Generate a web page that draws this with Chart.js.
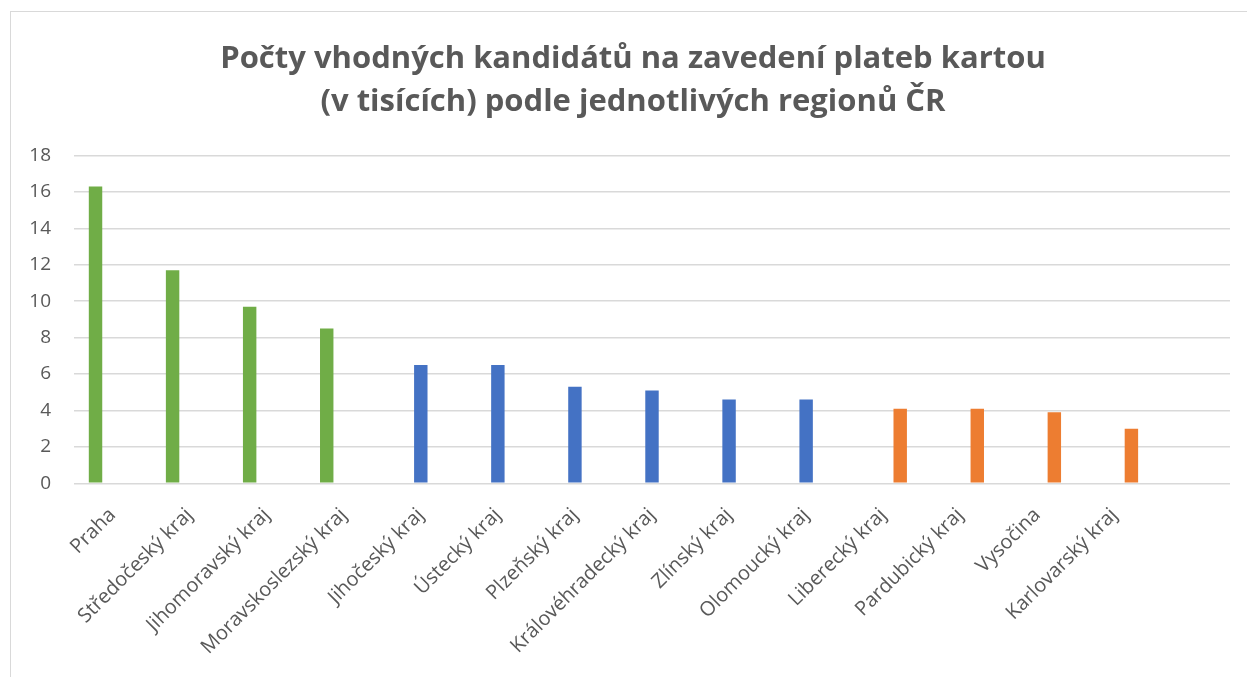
<!DOCTYPE html>
<html>
<head>
<meta charset="utf-8">
<script src="https://cdn.jsdelivr.net/npm/chart.js@4"></script>
<style>
    html, body { margin: 0; padding: 0; background: #fff; }
    #wrap { position: relative; width: 1247px; height: 677px; overflow: hidden; }
    #frame { position: absolute; left: 10px; top: 11px; width: 1300px; height: 700px; border: 1px solid #d9d9d9; box-sizing: border-box; }
    canvas { position: absolute; left: 0; top: 0; }
</style>
</head>
<body>
<div id="wrap">
    <div id="frame"></div>
    <canvas id="chart" width="1247" height="677"></canvas>
</div>
<script>
// regions of the Czech Republic (last slot is the empty category in the source sheet)
const regions = [
    'Praha', 'Středočeský kraj', 'Jihomoravský kraj', 'Moravskoslezský kraj',
    'Jihočeský kraj', 'Ústecký kraj', 'Plzeňský kraj', 'Královéhradecký kraj',
    'Zlínský kraj', 'Olomoucký kraj', 'Liberecký kraj', 'Pardubický kraj',
    'Vysočina', 'Karlovarský kraj', ''
];
// candidates in thousands
const candidates = [16.3, 11.7, 9.7, 8.5, 6.5, 6.5, 5.3, 5.1, 4.6, 4.6, 4.1, 4.1, 3.9, 3.0, null];
// which series each region belongs to: 0 = green, 1 = blue, 2 = orange
const groupOf = [0, 0, 0, 0, 1, 1, 1, 1, 1, 1, 2, 2, 2, 2, null];
const groupColors = ['#70AD47', '#4472C4', '#ED7D31'];
const yTicks = [0, 2, 4, 6, 8, 10, 12, 14, 16, 18];

const titleLines = [
    'Počty vhodných kandidátů na zavedení plateb kartou',
    '(v tisících) podle jednotlivých regionů ČR'
];

const datasets = groupColors.map((color, g) => ({
    label: 'Skupina ' + (g + 1),
    data: candidates.map((v, i) => (groupOf[i] === g ? v : null)),
    backgroundColor: color,
    borderWidth: 0,
    categoryPercentage: 0.662,
    barPercentage: 0.79
}));

const textColor = '#595959';
const gridColor = '#D9D9D9';

new Chart(document.getElementById('chart').getContext('2d'), {
    type: 'bar',
    data: { labels: regions, datasets: datasets },
    options: {
        responsive: false,
        animation: false,
        layout: { padding: { left: 20, right: 1, top: 0, bottom: 0 } },
        plugins: {
            legend: { display: false },
            tooltip: { enabled: false },
            title: {
                display: true,
                text: titleLines,
                color: textColor,
                font: { family: 'Open Sans', size: 31, weight: 'bold', lineHeight: 43 / 31 },
                padding: { top: 37.5, bottom: 32 }
            }
        },
        scales: {
            x: {
                grid: { display: false },
                border: { display: false },
                ticks: {
                    color: textColor,
                    font: { family: 'Open Sans', size: 20 },
                    minRotation: 45,
                    maxRotation: 45,
                    autoSkip: false,
                    padding: 12
                },
                afterFit: (scale) => { scale.height = 677 - 483.3; }
            },
            y: {
                min: 0,
                max: 18,
                afterBuildTicks: (scale) => { scale.ticks = yTicks.map(v => ({ value: v })); },
                grid: { color: gridColor, lineWidth: 1.5, drawTicks: false },
                border: { display: false },
                ticks: {
                    color: textColor,
                    font: { family: 'Open Sans', size: 19 },
                    padding: 23
                },
                afterFit: (scale) => { scale.width = 74 - 20; }
            },
            // empty right-hand strip so the title centres like the original
            yPad: {
                position: 'right',
                grid: { display: false },
                border: { display: false },
                ticks: { display: false },
                afterFit: (scale) => { scale.width = 16; }
            }
        }
    }
});
</script>
</body>
</html>
